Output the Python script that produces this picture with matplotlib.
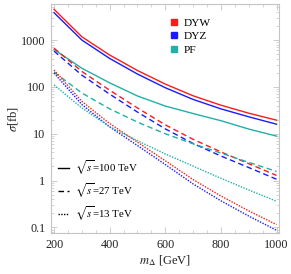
import numpy as np
import matplotlib
matplotlib.use("Agg")
import matplotlib.pyplot as plt
from matplotlib.lines import Line2D
from matplotlib.ticker import FixedLocator, FixedFormatter, LogLocator, NullFormatter, MultipleLocator

# ---------------- data ----------------
m_delta = [200, 300, 400, 500, 600, 700, 800, 900, 1000]

# sqrt(s) = 100 TeV (solid)
dyw_100 = [4530, 1175, 479, 224, 115, 64.6, 40.7, 27.5, 19.5]
dyz_100 = [3830, 1000, 405, 188, 96, 54, 34, 23, 16]
pf_100 = [630, 250, 122, 64, 39, 27, 19, 12.6, 8.9]

# sqrt(s) = 27 TeV (dashed)
dyw_27 = [670, 214, 85, 35.5, 15.5, 7.6, 4.1, 2.3, 1.29]
dyz_27 = [580, 178, 70, 29, 12.7, 6.2, 3.35, 1.9, 1.07]
pf_27 = [207, 74, 34, 17.7, 10, 6.1, 3.87, 2.45, 1.57]

# sqrt(s) = 13 TeV (dotted)
dyw_13 = [229, 49, 16.5, 6.6, 2.65, 1.05, 0.47, 0.226, 0.115]
dyz_13 = [197, 42, 14, 5.6, 2.2, 0.85, 0.37, 0.175, 0.087]
pf_13 = [110, 35.5, 14.1, 7.1, 3.7, 2.04, 1.12, 0.63, 0.363]

process_labels = ["DYW", "DYZ", "PF"]
energy_labels = [r"$\sqrt{s}$=100 TeV", r"$\sqrt{s}$=27 TeV", r"$\sqrt{s}$=13 TeV"]
x_ticks = [200, 400, 600, 800, 1000]
y_ticks = [0.1, 1, 10, 100, 1000]
y_tick_labels = ["0.1", "1", "10", "100", "1000"]
x_label = r"$m_{\Delta}$ [GeV]"
y_label = r"$\sigma$[fb]"

# ---------------- style ----------------
plt.rcParams["font.family"] = ["Liberation Serif", "DejaVu Serif"]
plt.rcParams["mathtext.fontset"] = "stix"

RED = "#ff1a1a"
BLUE = "#1a1aff"
TEAL = "#1fb0a8"
colors = [RED, BLUE, TEAL]
FRAME = "#c4c4c4"

fig = plt.figure(figsize=(2.91, 2.74), dpi=100)
ax = fig.add_axes([0.1753, 0.1496, 0.9588 - 0.1753, 0.9843 - 0.1496])

lw = 1.0
dash = (0, (4, 2.5))
dot = (0, (1, 1))
series = [
    (dyw_100, RED, "-"), (dyz_100, BLUE, "-"), (pf_100, TEAL, "-"),
    (dyw_27, RED, dash), (dyz_27, BLUE, dash), (pf_27, TEAL, dash),
    (dyw_13, RED, dot), (dyz_13, BLUE, dot), (pf_13, TEAL, dot),
]
for vals, c, ls in series:
    ax.plot(m_delta, vals, color=c, ls=ls, lw=lw)

ax.set_yscale("log")
ax.set_xlim(189, 1009)
ax.set_ylim(0.076, 5800)

ax.xaxis.set_major_locator(FixedLocator(x_ticks))
ax.xaxis.set_minor_locator(MultipleLocator(50))
ax.yaxis.set_major_locator(FixedLocator(y_ticks))
ax.yaxis.set_major_formatter(FixedFormatter(y_tick_labels))
ax.yaxis.set_minor_locator(LogLocator(base=10, subs=np.arange(2, 10)))
ax.yaxis.set_minor_formatter(NullFormatter())

for s in ax.spines.values():
    s.set_color(FRAME)
    s.set_linewidth(0.8)
ax.tick_params(which="both", direction="in", color=FRAME, top=True, right=True,
               labelsize=8.7, labelcolor="#222222", pad=4)
ax.tick_params(which="major", length=4, width=0.6)
ax.tick_params(which="minor", length=2, width=0.5)

ax.set_xlabel(x_label, fontsize=9, color="#222222", labelpad=2)
ax.set_ylabel(y_label, fontsize=9, color="#222222", labelpad=1)

# legends
proc_handles = [Line2D([], [], marker="s", ls="none", color=c, markersize=4.5) for c in colors]
leg1 = ax.legend(proc_handles, process_labels, loc="upper left", bbox_to_anchor=(0.518, 0.94),
                 frameon=False, fontsize=8.2, handlelength=0.8, handletextpad=0.5,
                 labelspacing=0.3, borderpad=0, borderaxespad=0)
ax.add_artist(leg1)

en_handles = [Line2D([], [], color="black", ls="-", lw=1.0),
              Line2D([], [], color="black", ls=dash, lw=1.0),
              Line2D([], [], color="black", ls=dot, lw=1.0)]
ax.legend(en_handles, energy_labels, loc="upper left", bbox_to_anchor=(0.03, 0.325),
          frameon=False, fontsize=7.8, handlelength=1.0, handletextpad=0.6,
          labelspacing=0.42, borderpad=0, borderaxespad=0)

fig.savefig("out.png", dpi=100)
